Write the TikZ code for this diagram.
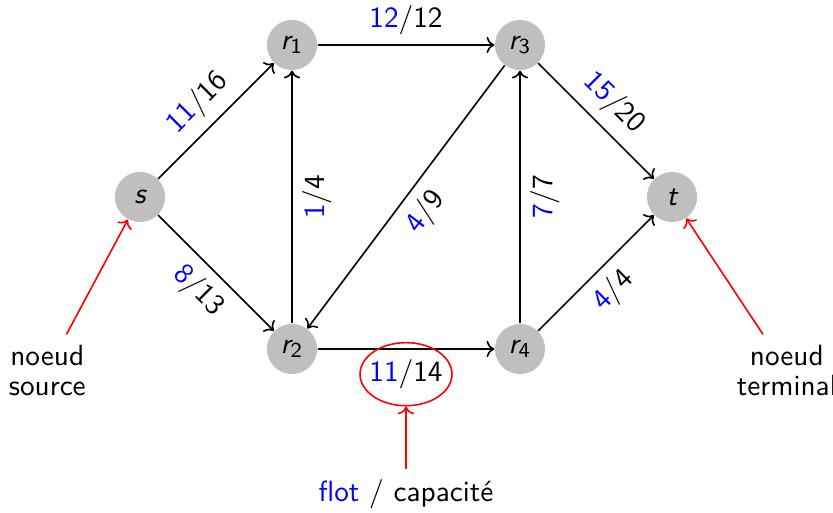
\documentclass[11pt,tikz,border=0pt]{standalone}
\usetikzlibrary{shapes.geometric,arrows.meta,positioning,calc}
\renewcommand{\familydefault}{\sfdefault}

\begin{document}
\begin{tikzpicture}[
    vtx/.style={circle, fill=black!25, minimum size=0.66cm, inner sep=0pt},
    flw/.style={->, semithick},
    lab/.style={sloped, midway},
    note/.style={align=center, font=\fontsize{10.95}{11.4}\selectfont},
    rarr/.style={->, red, semithick},
]
\useasboundingbox (-1.842,-4.145) rectangle (9.118,2.592);

% === Sommets ===
\node[vtx] (s) at (0,0) {\itshape s};
\node[vtx] (r1) at (2,2) {\itshape r\textsubscript{\upshape 1}};
\node[vtx] (r2) at (2,-2) {\itshape r\textsubscript{\upshape 2}};
\node[vtx] (r3) at (5,2) {\itshape r\textsubscript{\upshape 3}};
\node[vtx] (r4) at (5,-2) {\itshape r\textsubscript{\upshape 4}};
\node[vtx] (t) at (7,0) {\itshape t};

% === Arcs : flot / capacite ===
\draw[flw] (s) -- node[lab, above] (fsr1) {\textcolor{blue}{11}/16} (r1);
\draw[flw] (s) -- node[lab, below] (fsr2) {\textcolor{blue}{8}/13} (r2);
\draw[flw] (r1) -- node[lab, above] (f13) {\textcolor{blue}{12}/12} (r3);
\draw[flw] (r2) -- node[lab, below] (f21) {\textcolor{blue}{1}/4} (r1);
\draw[flw] (r3) -- node[lab, below] (f32) {\textcolor{blue}{4}/9} (r2);
\draw[flw] (r2) -- node[lab, below] (f24) {\textcolor{blue}{11}/14} (r4);
\draw[flw] (r4) -- node[lab, below] (f43) {\textcolor{blue}{7}/7} (r3);
\draw[flw] (r3) -- node[lab, above] (f3t) {\textcolor{blue}{15}/20} (t);
\draw[flw] (r4) -- node[lab, below] (f4t) {\textcolor{blue}{4}/4} (t);

% === Legende ===
\node[ellipse, draw=red, semithick, minimum width=1.21cm, minimum height=0.83cm] (ell) at (f24) {};
\node[note] (src) at (-1.22,-2.28) {noeud\\source};
\node[note] (term) at (8.51,-2.28) {noeud\\terminal};
\node (leg) at (3.5,-3.91) {\textcolor{blue}{flot} / capacité};

\draw[rarr] (src) -- (s);
\draw[rarr] (term) -- (t);
\draw[rarr] (leg) -- (ell);

\end{tikzpicture}
\end{document}
